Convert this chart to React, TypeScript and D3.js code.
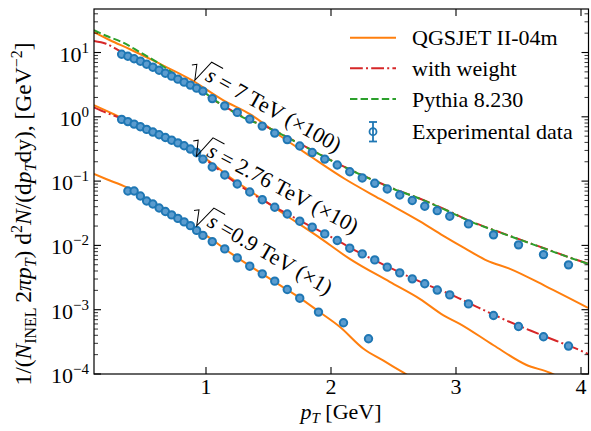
import React from 'react';
import * as d3 from 'd3';

const W = 591, H = 431;
const M = { left: 94, right: 588.5, top: 9, bottom: 374 };
const FONT = "'Liberation Serif', 'DejaVu Serif', serif";
const C_ORANGE = '#ff7f0e', C_RED = '#d62728', C_GREEN = '#2ca02c', C_BLUE = '#1f77b4';

// Experimental data (values already multiplied by the shown factors)
const ptMain = [0.325, 0.375, 0.425, 0.475, 0.525, 0.575, 0.625, 0.675, 0.725, 0.775, 0.825, 0.875, 0.925, 0.975,
  1.05, 1.15, 1.25, 1.35, 1.45, 1.55, 1.65, 1.75, 1.85, 1.95, 2.05, 2.15, 2.25, 2.35, 2.45, 2.55, 2.65, 2.75, 2.85, 2.95,
  3.1, 3.3, 3.5, 3.7, 3.9];
const pt7 = [...ptMain, 4.1];
const data7x100 = [9.41, 8.76, 8.01, 7.33, 6.58, 5.91, 5.31, 4.77, 4.29, 3.85, 3.46, 3.11, 2.79, 2.51,
  1.92, 1.48, 1.17, 0.921, 0.717, 0.558, 0.442, 0.351, 0.278, 0.220, 0.178, 0.140, 0.112, 0.0924, 0.0754, 0.0608, 0.0500, 0.0406, 0.0347, 0.0284,
  0.0216, 0.0146, 0.0102, 0.00720, 0.00498, 0.00367];
const pt276 = ptMain;
const data276x10 = [0.911, 0.842, 0.770, 0.702, 0.637, 0.579, 0.525, 0.477, 0.433, 0.393, 0.355, 0.315, 0.278, 0.220,
  0.1656, 0.1243, 0.0902, 0.0677, 0.0514, 0.0392, 0.0308, 0.0238, 0.0192, 0.0151, 0.0119, 0.00905, 0.00738, 0.00595, 0.00459, 0.00374, 0.00302, 0.00253, 0.00202, 0.00170,
  0.00123, 0.000813, 0.000548, 0.000380, 0.000272];
const pt09 = [0.375, 0.425, 0.475, 0.525, 0.575, 0.625, 0.675, 0.725, 0.775, 0.825, 0.875, 0.925, 0.975,
  1.05, 1.15, 1.25, 1.35, 1.45, 1.55, 1.65, 1.75, 1.9, 2.1, 2.3];
const data09x1 = [0.0702, 0.0702, 0.0587, 0.0491, 0.0441, 0.0382, 0.0337, 0.0298, 0.0263, 0.0232, 0.0203, 0.0171, 0.0143,
  0.01146, 0.00883, 0.00639, 0.00475, 0.00361, 0.00278, 0.00206, 0.00151, 0.000918, 0.000626, 0.000353];

// QGSJET II-04m
const qgsPt7 = [0.104, 0.232, 0.392, 0.608, 0.872, 1.136, 1.352, 1.592, 1.832, 2.112, 2.392, 2.712, 2.896, 3.072, 3.248, 3.432, 3.712, 4.056];
const qgs7 = [20.7, 15.5, 11.25, 7.0, 3.85, 1.82, 1.10, 0.507, 0.2454, 0.1078, 0.0527, 0.0236, 0.0142, 0.00898, 0.00581, 0.00432, 0.00235, 0.00107];
const qgsPt276 = [0.104, 0.2, 0.328, 0.6, 0.84, 1.0, 1.2, 1.4, 1.6, 1.9, 2.15, 2.47, 2.71, 2.9, 3.03, 3.3, 3.56, 3.75, 3.85];
const qgs276 = [1.52, 1.248, 0.954, 0.548, 0.3324, 0.2203, 0.1117, 0.0608, 0.0331, 0.01355, 0.00617, 0.00271, 0.001476, 0.000818, 0.000604, 0.000280, 0.0001394, 0.0001047, 0.0000845];
const qgsPt09 = [0.104, 0.2, 0.368, 0.552, 0.8, 1.0, 1.2, 1.4, 1.6, 1.75, 1.9, 2.07, 2.26, 2.42, 2.58, 2.66];
const qgs09 = [0.1289, 0.1078, 0.0796, 0.0491, 0.0249, 0.0143, 0.00751, 0.00417, 0.00235, 0.00153, 0.000945, 0.000543, 0.000247, 0.000161, 0.0001047, 0.0000845];

// with weight
const wPt7 = [0.104, 0.2, 0.328, 0.472, 0.608, 0.832, 1.112, 1.352, 1.448, 1.752, 2.048, 2.352, 2.552, 2.632, 2.952, 3.104, 3.304, 3.504, 3.704, 3.904, 4.056];
const w7 = [15.1, 13.7, 10.1, 7.59, 5.60, 3.34, 1.603, 0.89, 0.75, 0.38, 0.19, 0.101, 0.0695, 0.0612, 0.0335, 0.0243, 0.0173, 0.0125, 0.00905, 0.00655, 0.0052];
const wPt276 = [0.104, 0.2, 0.328, 0.6, 0.84, 1.0, 1.2, 1.4, 1.6, 1.8, 2.0, 2.2, 2.4, 2.6, 2.8, 3.0, 3.2, 3.4, 3.6, 3.8, 4.0, 4.06];
const w276 = [1.40, 1.162, 0.938, 0.539, 0.3324, 0.2127, 0.1059, 0.0587, 0.03497, 0.02158, 0.01355, 0.00822, 0.00525, 0.00342, 0.00231, 0.001586, 0.001033, 0.000684, 0.000470, 0.000329, 0.000230, 0.000203];

// Pythia 8.230
const pyPt7 = [0.104, 0.2, 0.336, 0.472, 0.608, 0.72, 0.832, 0.976, 1.112, 1.352, 1.448, 1.752, 2.048, 2.352, 2.552, 2.632, 2.952, 3.104, 3.304, 3.504, 3.704, 3.904, 4.056];
const py7 = [22.2, 18.2, 14.3, 10.1, 7.07, 5.03, 3.65, 2.46, 1.603, 0.873, 0.743, 0.377, 0.1877, 0.1004, 0.0690, 0.0608, 0.0331, 0.0240, 0.0171, 0.01239, 0.00898, 0.00651, 0.00516];

const xTicks = [1, 2, 3, 4];
const yExps = [-4, -3, -2, -1, 0, 1];
const yTickSup = ['\u22124', '\u22123', '\u22122', '\u22121', '0', '1'];

const zip = (a: number[], b: number[]) => a.map((v, i) => [v, b[i]] as [number, number]);

function Annot({ x0, y0, angle, rest }: { x0: number; y0: number; angle: number; rest: string }) {
  return (
    <g transform={`translate(${x0},${y0}) rotate(${angle})`}>
      <path d="M-4,-7 L0,-10 L6,5 L12,-19 L25,-19" fill="none" stroke="#000" strokeWidth={1} />
      <text x={14} y={0} fontSize={22} fontFamily={FONT}>
        <tspan fontStyle="italic">s</tspan>
        <tspan>{rest}</tspan>
      </text>
    </g>
  );
}

export default function App() {
  const x = d3.scaleLinear().domain([0.104, 4.06]).range([M.left, M.right]);
  const y = d3.scaleLog().domain([1e-4, 47.5]).range([M.bottom, M.top]);
  const line = d3.line<[number, number]>().x(d => x(d[0])).y(d => y(d[1])).curve(d3.curveMonotoneX);

  const minor: number[] = [];
  for (let e = -4; e <= 1; e++) for (let m = 2; m <= 9; m++) {
    const v = m * Math.pow(10, e);
    if (v < 47.5) minor.push(v);
  }

  const markers = [
    ...zip(pt7, data7x100),
    ...zip(pt276, data276x10),
    ...zip(pt09, data09x1),
  ];

  return (
    <svg width={W} height={H} style={{ position: 'absolute', left: 0, top: 0, background: '#fff' }} fontFamily={FONT}>
      <defs>
        <clipPath id="plot">
          <rect x={M.left} y={M.top} width={M.right - M.left} height={M.bottom - M.top} />
        </clipPath>
      </defs>
      <g clipPath="url(#plot)">
        <path d={line(zip(qgsPt7, qgs7)) || ''} fill="none" stroke={C_ORANGE} strokeWidth={2} />
        <path d={line(zip(qgsPt276, qgs276)) || ''} fill="none" stroke={C_ORANGE} strokeWidth={2} />
        <path d={line(zip(qgsPt09, qgs09)) || ''} fill="none" stroke={C_ORANGE} strokeWidth={2} />
        <path d={line(zip(wPt7, w7)) || ''} fill="none" stroke={C_RED} strokeWidth={2} strokeDasharray="12.8,3.2,2,3.2" />
        <path d={line(zip(wPt276, w276)) || ''} fill="none" stroke={C_RED} strokeWidth={2} strokeDasharray="12.8,3.2,2,3.2" />
        <path d={line(zip(pyPt7, py7)) || ''} fill="none" stroke={C_GREEN} strokeWidth={2} strokeDasharray="7.4,3.2" />
        {markers.map((d, i) => (
          <circle key={i} cx={x(d[0])} cy={y(d[1])} r={3.7} fill="#5b9ccf" stroke={C_BLUE} strokeWidth={2} />
        ))}
      </g>

      {/* spines */}
      <rect x={M.left} y={M.top} width={M.right - M.left} height={M.bottom - M.top} fill="none" stroke="#000" strokeWidth={1.2} />

      {/* x ticks */}
      {xTicks.map(t => (
        <g key={t}>
          <line x1={x(t)} x2={x(t)} y1={M.bottom} y2={M.bottom - 7} stroke="#000" strokeWidth={1.1} />
          <line x1={x(t)} x2={x(t)} y1={M.top} y2={M.top + 7} stroke="#000" strokeWidth={1.1} />
          <text x={x(t)} y={M.bottom + 20} textAnchor="middle" fontSize={22}>{t}</text>
        </g>
      ))}

      {/* y ticks */}
      {yExps.map((e, i) => {
        const yy = y(Math.pow(10, e));
        return (
          <g key={e}>
            <line x1={M.left} x2={M.left + 7} y1={yy} y2={yy} stroke="#000" strokeWidth={1.1} />
            <line x1={M.right} x2={M.right - 7} y1={yy} y2={yy} stroke="#000" strokeWidth={1.1} />
            <text x={89} y={yy + 9} textAnchor="end" fontSize={22}>
              10<tspan fontSize={15} dy={-9}>{yTickSup[i]}</tspan>
            </text>
          </g>
        );
      })}
      {minor.map(v => (
        <g key={v}>
          <line x1={M.left} x2={M.left + 4} y1={y(v)} y2={y(v)} stroke="#000" strokeWidth={0.8} />
          <line x1={M.right} x2={M.right - 4} y1={y(v)} y2={y(v)} stroke="#000" strokeWidth={0.8} />
        </g>
      ))}

      {/* axis labels */}
      <text x={341} y={418.5} textAnchor="middle" fontSize={22}>
        <tspan fontStyle="italic">p</tspan>
        <tspan fontStyle="italic" fontSize={15} dy={4}>T</tspan>
        <tspan dy={-4}> [GeV]</tspan>
      </text>
      <text transform={`translate(31,214) rotate(-90)`} textAnchor="middle" fontSize={23.5}>
        <tspan>1/(</tspan>
        <tspan fontStyle="italic">N</tspan>
        <tspan fontSize={16} dy={5}>INEL</tspan>
        <tspan dy={-5}>{'\u20092'}</tspan>
        <tspan fontStyle="italic">πp</tspan>
        <tspan fontStyle="italic" fontSize={16} dy={5}>T</tspan>
        <tspan dy={-5}>) d</tspan>
        <tspan fontSize={16} dy={-9}>2</tspan>
        <tspan fontStyle="italic" dy={9}>N</tspan>
        <tspan>/(d</tspan>
        <tspan fontStyle="italic">p</tspan>
        <tspan fontStyle="italic" fontSize={16} dy={5}>T</tspan>
        <tspan dy={-5}>dy), [GeV</tspan>
        <tspan fontSize={16} dy={-9}>{'\u22122'}</tspan>
        <tspan dy={9}>]</tspan>
      </text>

      {/* annotations */}
      <Annot x0={192} y0={73} angle={29} rest={' = 7 TeV (\u00d7100)'} />
      <Annot x0={193.5} y0={149} angle={28} rest={' = 2.76 TeV (\u00d710)'} />
      <Annot x0={194} y0={218.5} angle={30} rest={' =0.9 TeV (\u00d71)'} />

      {/* legend */}
      <g fontSize={22}>
        <line x1={350} x2={396} y1={37.7} y2={37.7} stroke={C_ORANGE} strokeWidth={2} />
        <text x={412} y={45}>QGSJET II-04m</text>
        <line x1={350} x2={396} y1={68.3} y2={68.3} stroke={C_RED} strokeWidth={2} strokeDasharray="12.8,3.2,2,3.2" />
        <text x={412} y={76}>with weight</text>
        <line x1={350} x2={396} y1={99} y2={99} stroke={C_GREEN} strokeWidth={2} strokeDasharray="7.4,3.2" />
        <text x={412} y={107}>Pythia 8.230</text>
        <line x1={373} x2={373} y1={122} y2={141.5} stroke={C_BLUE} strokeWidth={1.8} />
        <line x1={369} x2={377} y1={122} y2={122} stroke={C_BLUE} strokeWidth={1.8} />
        <line x1={369} x2={377} y1={141.5} y2={141.5} stroke={C_BLUE} strokeWidth={1.8} />
        <circle cx={373} cy={131.7} r={3.5} fill="none" stroke={C_BLUE} strokeWidth={1.8} />
        <text x={412} y={139}>Experimental data</text>
      </g>
    </svg>
  );
}
